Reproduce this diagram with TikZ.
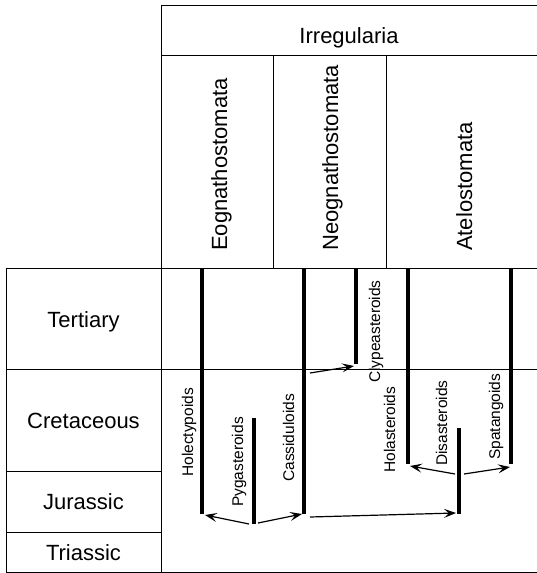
\documentclass[tikz,border=0pt]{standalone}
\usepackage{fontspec}
\setmainfont{Liberation Sans}
\usetikzlibrary{arrows.meta}
\begin{document}
\begin{tikzpicture}[x=1pt,y=-1pt,
  grid/.style={line width=0.9pt},
  bar/.style={line width=4pt},
  link/.style={line width=1.2pt,-{Stealth[length=12pt,width=9pt,inset=5pt]}},
  big/.style={inner sep=0pt,font=\fontsize{22}{26}\selectfont},
  vbig/.style={big,rotate=90,anchor=base west},
  small/.style={inner sep=0pt,font=\fontsize{15.5}{18}\selectfont,rotate=90,anchor=base west}]
\useasboundingbox (0,0) rectangle (537,573);
% header frame
\draw[grid] (537,5) -- (161,5) -- (161,572);
\draw[grid] (161,55) -- (537,55);
\draw[grid] (273,55) -- (273,268);
\draw[grid] (386,55) -- (386,268);
% time table
\draw[grid] (537,268) -- (6,268) -- (6,572) -- (537,572);
\draw[grid] (6,369) -- (537,369);
\draw[grid] (6,471) -- (161,471);
\draw[grid] (6,532) -- (161,532);
% header texts
\node[big,anchor=base] (irr) at (349,43) {Irregularia};
\node[vbig] (eog) at (227,251) {Eognathostomata};
\node[vbig] (neo) at (338,251) {Neognathostomata};
\node[vbig] (ate) at (472,251) {Atelostomata};
% periods
\node[big,anchor=base] (ter) at (83.5,327) {Tertiary};
\node[big,anchor=base] (cre) at (83.5,428) {Cretaceous};
\node[big,anchor=base] (jur) at (83.5,509.5) {Jurassic};
\node[big,anchor=base] (tri) at (83.5,560) {Triassic};
% bars
\coordinate (holT) at (202,268); \coordinate (holB) at (202,514);
\coordinate (pygT) at (254,418); \coordinate (pygB) at (254,524);
\coordinate (casT) at (304,268); \coordinate (casB) at (304,514);
\coordinate (clyT) at (356,268); \coordinate (clyB) at (356,364);
\coordinate (holaT) at (408,268); \coordinate (holaB) at (408,464);
\coordinate (disT) at (459,428); \coordinate (disB) at (459,514);
\coordinate (spaT) at (511,268); \coordinate (spaB) at (511,464);
\foreach \b in {hol,pyg,cas,cly,hola,dis,spa} \draw[bar] (\b T) -- (\b B);
% bar labels
\node[small] (lhol) at (193,477) {Holectypoids};
\node[small] (lpyg) at (243,507) {Pygasteroids};
\node[small] (lcas) at (294,482) {Cassiduloids};
\node[small] (lcly) at (380,383) {Clypeasteroids};
\node[small] (lhola) at (395,473) {Holasteroids};
\node[small] (ldis) at (447,466) {Disasteroids};
\node[small] (lspa) at (500,460) {Spatangoids};
% arrow ends
\coordinate (a1s) at (249,524); \coordinate (a1e) at (205,515);
\coordinate (a2s) at (258,523); \coordinate (a2e) at (302,514);
\coordinate (a3s) at (310,517); \coordinate (a3e) at (456,513);
\coordinate (a4s) at (455,474); \coordinate (a4e) at (410,466);
\coordinate (a5s) at (464,474); \coordinate (a5e) at (510,467);
\coordinate (a6s) at (310,373); \coordinate (a6e) at (354,366);
\foreach \i in {1,...,6} \draw[link] (a\i s) -- (a\i e);
\end{tikzpicture}
\end{document}
